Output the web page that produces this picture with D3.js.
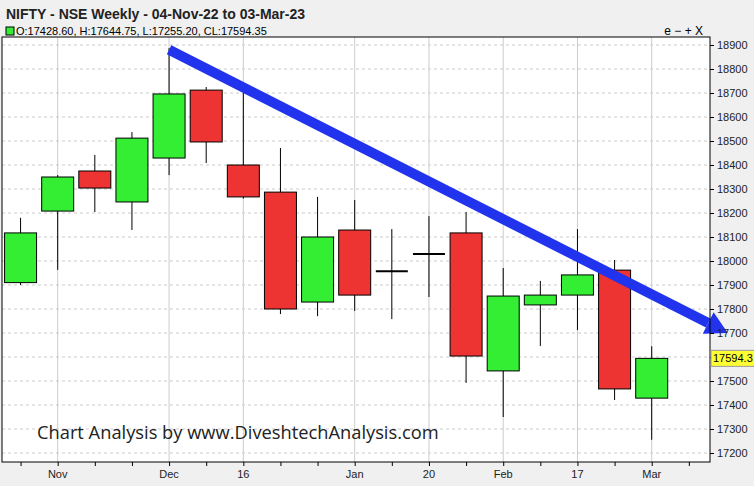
<!DOCTYPE html><html><head><meta charset="utf-8">
<script src="https://cdn.jsdelivr.net/npm/d3@7"></script>
<style>body{margin:0;background:#f0f0f0}</style></head><body>
<svg id="c" width="754" height="486"></svg>
<script>
const dates=["04-Nov","11-Nov","18-Nov","25-Nov","02-Dec","09-Dec","16-Dec","23-Dec","30-Dec","06-Jan","13-Jan","20-Jan","27-Jan","03-Feb","10-Feb","17-Feb","24-Feb","03-Mar"];
const opens=[17910,18208,18375,18246,18429,18712,18400,18287,17829,18129,17957,18027,18117,17542,17817,17858,17962,17428.6];
const highs=[18180,18358,18442,18537,18887,18725,18700,18471,18267,18254,18133,18187,18204,17971,17917,18133,18004,17644.75];
const lows=[17900,17963,18204,18129,18358,18408,18260,17779,17770,17792,17758,17850,17492,17350,17646,17712,17421,17255.2];
const closes=[18117,18350,18304,18512,18696,18496,18267,17800,18100,17858,17956,18029,17604,17854,17858,17942,17467,17594.35];
const yTicks=[17200,17300,17400,17500,17600,17700,17800,17900,18000,18100,18200,18300,18400,18500,18600,18700,18800,18900];
const xLabels=[[1,"Nov"],[4,"Dec"],[6,"16"],[9,"Jan"],[11,"20"],[13,"Feb"],[15,"17"],[17,"Mar"]];
const trend=[[4,18880],[19.05,17700]];
const svg=d3.select("#c");
const L=2,R=710,T=37,B=462;
const x=d3.scaleLinear().domain([-0.5,18.57]).range([L,R]);
const y=d3.scaleLinear().domain([17200,18900]).range([453,45]);
svg.append("text").attr("x",6).attr("y",19).attr("font-family","Liberation Sans,Arial").attr("font-size",14).attr("font-weight","bold").attr("fill","#222").text("NIFTY - NSE Weekly - 04-Nov-22 to 03-Mar-23");
svg.append("rect").attr("x",L).attr("y",T).attr("width",R-L).attr("height",B-T).attr("fill","#fff");
const g=svg.append("g");
yTicks.forEach(v=>g.append("line").attr("x1",L).attr("x2",R).attr("y1",y(v)).attr("y2",y(v)).attr("stroke","#ccc").attr("stroke-dasharray","3,3"));
xLabels.forEach(([i])=>g.append("line").attr("x1",x(i)).attr("x2",x(i)).attr("y1",T).attr("y2",B).attr("stroke","#ccc"));
dates.forEach((d,i)=>{
 const cx=x(i),up=closes[i]>=opens[i];
 g.append("line").attr("x1",cx).attr("x2",cx).attr("y1",y(highs[i])).attr("y2",y(lows[i])).attr("stroke","#000");
 const top=y(Math.max(opens[i],closes[i])),bot=y(Math.min(opens[i],closes[i]));
 if(bot-top<2){g.append("line").attr("x1",cx-16).attr("x2",cx+16).attr("y1",top).attr("y2",top).attr("stroke","#000").attr("stroke-width",2);}
 else g.append("rect").attr("x",cx-16).attr("y",top).attr("width",32).attr("height",bot-top).attr("fill",up?"#33ee33":"#ee3333").attr("stroke","#000");
});
const p0=[x(trend[0][0]),y(trend[0][1])],p1=[x(trend[1][0]),y(trend[1][1])];
const ang=Math.atan2(p1[1]-p0[1],p1[0]-p0[0]);
const hl=22,hw=12;
const bx=p1[0]-hl*Math.cos(ang),by=p1[1]-hl*Math.sin(ang);
svg.append("line").attr("x1",p0[0]).attr("y1",p0[1]).attr("x2",bx).attr("y2",by).attr("stroke","#2233ee").attr("stroke-width",10);
const nx=-Math.sin(ang),ny=Math.cos(ang);
svg.append("polygon").attr("points",[[p1[0],p1[1]],[bx+nx*hw,by+ny*hw],[bx-nx*hw,by-ny*hw]].map(p=>p.join(",")).join(" ")).attr("fill","#2233ee");
svg.append("rect").attr("x",L).attr("y",T).attr("width",R-L).attr("height",B-T).attr("fill","none").attr("stroke","#000");
const ya=svg.append("g").attr("transform",`translate(${R},0)`).call(d3.axisRight(y).tickValues(yTicks).tickSize(4).tickFormat(d3.format("d")));
ya.select(".domain").remove();
ya.selectAll("text").attr("font-family","Liberation Sans,Arial").attr("font-size",11).attr("fill","#222");
const xa=svg.append("g").attr("transform",`translate(0,${B})`).call(d3.axisBottom(x).tickValues(d3.range(0,19)).tickSize(4).tickFormat(()=>""));
xa.select(".domain").remove();
xLabels.forEach(([i,t])=>svg.append("text").attr("x",x(i)).attr("y",478).attr("text-anchor","middle").attr("font-family","Liberation Sans,Arial").attr("font-size",11).attr("fill","#222").text(t));
const last=closes[closes.length-1];
svg.append("rect").attr("x",R+1).attr("y",y(last)-8).attr("width",44).attr("height",16).attr("fill","#ffff33").attr("stroke","#999");
svg.append("text").attr("x",R+3).attr("y",y(last)+4).attr("font-family","Liberation Sans,Arial").attr("font-size",11).text(last.toFixed(1));
svg.append("rect").attr("x",6).attr("y",27).attr("width",8).attr("height",8).attr("fill","#33ee33").attr("stroke","#000");
svg.append("text").attr("x",16).attr("y",35).attr("font-family","Liberation Sans,Arial").attr("font-size",11).text(`O:${opens[17].toFixed(2)}, H:${highs[17].toFixed(2)}, L:${lows[17].toFixed(2)}, CL:${closes[17].toFixed(2)}`);
svg.append("text").attr("x",703).attr("y",35).attr("text-anchor","end").attr("font-family","Liberation Sans,Arial").attr("font-size",12).text("e − + X");
svg.append("text").attr("x",37).attr("y",439).attr("font-family","Open Sans").attr("font-size",18.3).attr("fill","#222").text("Chart Analysis by www.DiveshtechAnalysis.com");
</script></body></html>
